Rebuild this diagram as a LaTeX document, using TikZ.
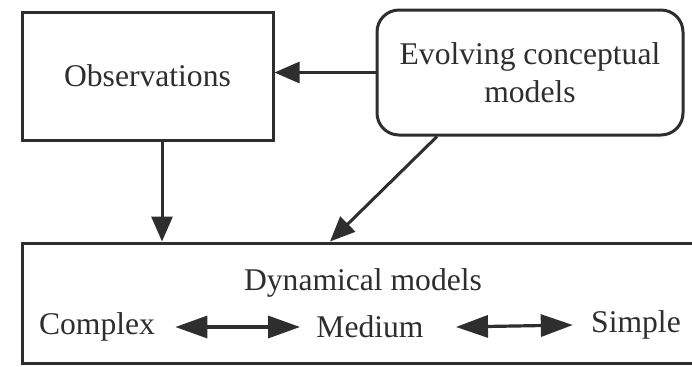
\documentclass[tikz,border=0pt]{standalone}
\usepackage{fontspec}
\setmainfont{Liberation Serif}
\usetikzlibrary{arrows.meta}
\definecolor{ink}{gray}{0.18}
\begin{document}
\begin{tikzpicture}[x=0.5pt,y=-0.5pt,
  lab/.style={text=ink, font=\fontsize{15.8}{19}\selectfont, inner sep=0pt},
  box/.style={lab, draw=ink, line width=1.5pt, align=center},
  arr/.style={draw=ink, line width=1.5pt, -{Triangle[length=12.5pt,width=10.5pt]}},
  dbl/.style={draw=ink, line width=1.6pt, {Triangle[length=16pt,width=11pt]}-{Triangle[length=16pt,width=11pt]}}]
\clip (0,0) rectangle (692,366);
\fill[white] (0,0) rectangle (692,366);
\node[box, minimum width=125.5pt, minimum height=64pt] (obs) at (147.5,76) {Observations};
\node[box, rounded corners=11pt, minimum width=153pt, minimum height=62.5pt] (evo) at (530,72.5) {Evolving conceptual\\models};
\node[box, minimum width=341pt, minimum height=60pt] (dyn) at (363,303) {};
\node[lab] (title) at (363,283) {Dynamical models};
\node[lab] (cx) at (97,327) {Complex};
\node[lab] (md) at (370,327) {Medium};
\node[lab] (sp) at (636,325) {Simple};
\coordinate (vx) at (162,0);
\coordinate (d1) at (437,0);
\coordinate (d2) at (330,0);
\draw[arr] (evo.west) -- (evo.west -| obs.east);
\draw[arr] (obs.south -| vx) -- (dyn.north -| vx);
\draw[arr] (evo.south -| d1) -- (dyn.north -| d2);
\draw[dbl] ([xshift=10pt]cx.east) -- ([xshift=-8pt]md.west);
\draw[dbl] ([xshift=16pt]md.east) -- ([xshift=-9pt]sp.west);
\end{tikzpicture}
\end{document}
